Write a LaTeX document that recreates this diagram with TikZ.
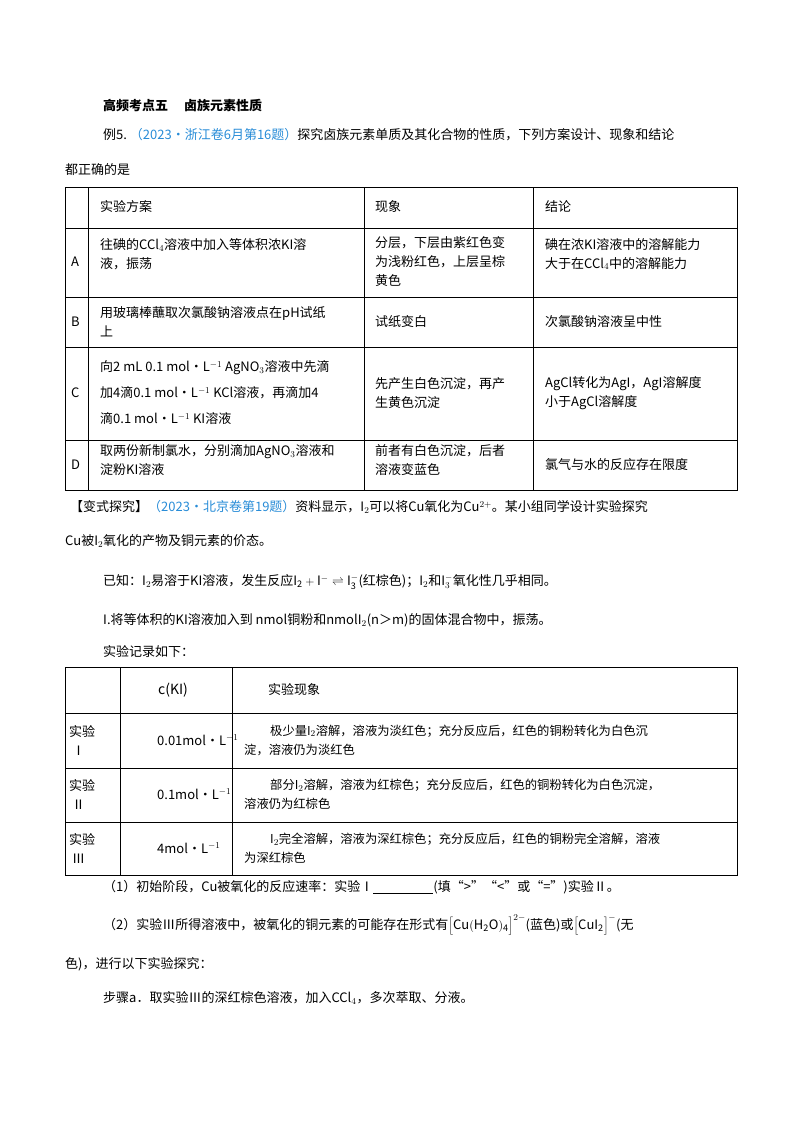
\documentclass[tikz,border=0pt]{standalone}
\usepackage{fontspec}
\setmainfont{Noto Sans CJK SC}
\definecolor{srcblue}{RGB}{40,140,215}
\begin{document}
\begin{tikzpicture}[x=1pt,y=-1pt,
  t/.style={anchor=west,inner sep=0pt,font=\fontsize{13}{19}\selectfont,align=left},
  grid/.style={line width=0.8pt}]
\useasboundingbox (0,0) rectangle (800,1132);
\node[t,font=\fontsize{13}{19}\bfseries\selectfont] (h) at (103,106) {高频考点五\quad\ 卤族元素性质};
\node[t] (e1) at (103,135) {例5.\ \textcolor{srcblue}{（2023·浙江卷6月第16题）}探究卤族元素单质及其化合物的性质，下列方案设计、现象和结论};
\node[t] (e2) at (65,170) {都正确的是};
% table 1
\draw[grid] (65,187) rectangle (737,490);
\foreach \y in {228,297,347,440} \draw[grid] (65,\y) -- (737,\y);
\foreach \x in {88,364,533} \draw[grid] (\x,187) -- (\x,490);
\node[t] (h1) at (100,207) {实验方案};
\node[t] (h2) at (375,207) {现象};
\node[t] (h3) at (545,207) {结论};
\node[t] (la) at (71,262) {A};
\node[t] (lb) at (71,322) {B};
\node[t] (lc) at (71,393) {C};
\node[t] (ld) at (71,465) {D};
\node[t] (a1) at (100,254) {往碘的CCl$_4$溶液中加入等体积浓KI溶\\液，振荡};
\node[t] (a2) at (375,262) {分层，下层由紫红色变\\为浅粉红色，上层呈棕\\黄色};
\node[t] (a3) at (545,254) {碘在浓KI溶液中的溶解能力\\大于在CCl$_4$中的溶解能力};
\node[t] (b1) at (100,322) {用玻璃棒蘸取次氯酸钠溶液点在pH试纸\\上};
\node[t] (b2) at (375,322) {试纸变白};
\node[t] (b3) at (545,322) {次氯酸钠溶液呈中性};
\node[t,font=\fontsize{13}{26}\selectfont] (c1) at (100,393) {向2 mL 0.1 mol·L$^{-1}$ AgNO$_3$溶液中先滴\\加4滴0.1 mol·L$^{-1}$ KCl溶液，再滴加4\\滴0.1 mol·L$^{-1}$ KI溶液};
\node[t] (c2) at (375,393) {先产生白色沉淀，再产\\生黄色沉淀};
\node[t] (c3) at (545,393) {AgCl转化为AgI，AgI溶解度\\小于AgCl溶解度};
\node[t] (d1) at (100,460) {取两份新制氯水，分别滴加AgNO$_3$溶液和\\淀粉KI溶液};
\node[t] (d2) at (375,460) {前者有白色沉淀，后者\\溶液变蓝色};
\node[t] (d3) at (545,465) {氯气与水的反应存在限度};
% variant
\node[t] (v1) at (70,507) {【变式探究】\textcolor{srcblue}{（2023·北京卷第19题）}资料显示，I$_2$可以将Cu氧化为Cu$^{2+}$。某小组同学设计实验探究};
\node[t] (v2) at (65,541) {Cu被I$_2$氧化的产物及铜元素的价态。};
\node[t] (v3) at (103,582) {已知：I$_2$易溶于KI溶液，发生反应$\mathrm{I_2+I^-}\rightleftharpoons\mathrm{I_3^-}$(红棕色)；I$_2$和I$_3^-$氧化性几乎相同。};
\node[t] (v4) at (103,620) {I.将等体积的KI溶液加入到 nmol铜粉和nmolI$_2$(n＞m)的固体混合物中，振荡。};
\node[t] (v5) at (103,652) {实验记录如下：};
% table 2
\draw[grid] (65,667) rectangle (737,875);
\foreach \y in {713,768,822} \draw[grid] (65,\y) -- (737,\y);
\foreach \x in {120,232} \draw[grid] (\x,667) -- (\x,875);
\node[t,font=\fontsize{14}{19}\selectfont] (g1) at (158,690) {c(KI)};
\node[t] (g2) at (268,690) {实验现象};
\node[t] (r1) at (69,740) {实验\\ \ Ⅰ};
\node[t] (r2) at (69,794) {实验\\ \ Ⅱ};
\node[t] (r3) at (69,848) {实验\\ \ Ⅲ};
\node[t] (k1) at (157,740) {0.01mol·L$^{-1}$};
\node[t] (k2) at (157,794) {0.1mol·L$^{-1}$};
\node[t] (k3) at (157,848) {4mol·L$^{-1}$};
\node[t,font=\fontsize{12.3}{19}\selectfont] (p1) at (244,740) {\hspace*{26pt}极少量I$_2$溶解，溶液为淡红色；充分反应后，红色的铜粉转化为白色沉\\淀，溶液仍为淡红色};
\node[t,font=\fontsize{12.3}{19}\selectfont] (p2) at (244,794) {\hspace*{26pt}部分I$_2$溶解，溶液为红棕色；充分反应后，红色的铜粉转化为白色沉淀，\\溶液仍为红棕色};
\node[t,font=\fontsize{12.3}{19}\selectfont] (p3) at (244,848) {\hspace*{26pt}I$_2$完全溶解，溶液为深红棕色；充分反应后，红色的铜粉完全溶解，溶液\\为深红棕色};
\node[t] (q1) at (103,887) {（1）初始阶段，Cu被氧化的反应速率：实验Ⅰ\underline{\hspace{60pt}}(填“>”“<”或“=”)实验Ⅱ。};
\node[t] (q2) at (103,925) {（2）实验Ⅲ所得溶液中，被氧化的铜元素的可能存在形式有$\left[\mathrm{Cu(H_2O)_4}\right]^{2-}$(蓝色)或$\left[\mathrm{CuI_2}\right]^{-}$(无};
\node[t] (q3) at (65,964) {色)，进行以下实验探究：};
\node[t] (q4) at (103,998) {步骤a．取实验Ⅲ的深红棕色溶液，加入CCl$_4$，多次萃取、分液。};
\end{tikzpicture}
\end{document}
